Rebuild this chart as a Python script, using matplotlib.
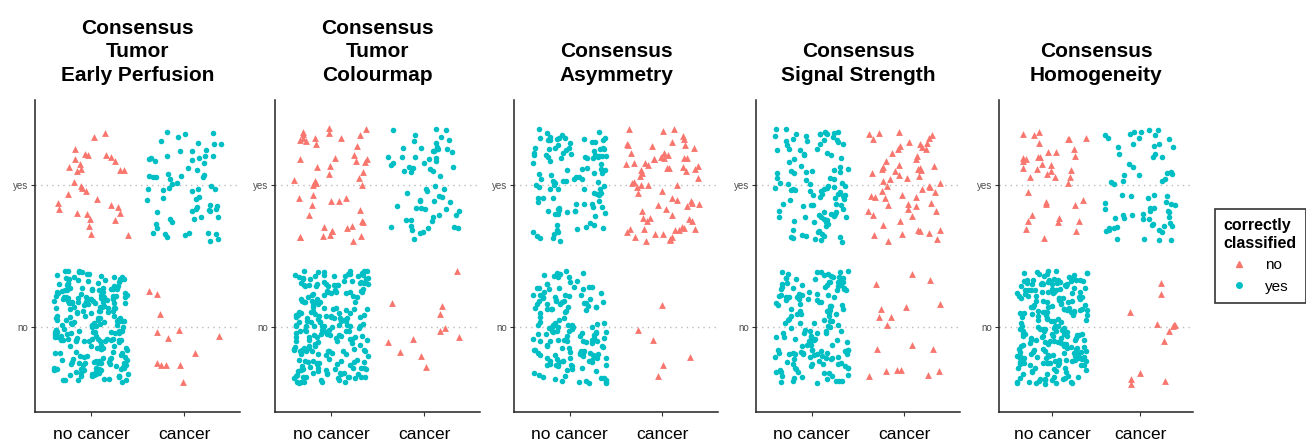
import numpy as np
import matplotlib
matplotlib.use("Agg")
import matplotlib.pyplot as plt
from matplotlib.lines import Line2D

plt.rcParams["font.family"] = ["Liberation Sans", "DejaVu Sans"]

W, H = 1306, 445

titles = [
    "Consensus\nTumor\nEarly Perfusion",
    "Consensus\nTumor\nColourmap",
    "Consensus\nAsymmetry",
    "Consensus\nSignal Strength",
    "Consensus\nHomogeneity",
]
x_labels = ["no cancer", "cancer"]
y_labels = ["no", "yes"]

# number of cases in each cell (true class x consensus answer)
n_nocancer_no = [240, 225, 160, 165, 235]
n_nocancer_yes = [33, 50, 112, 110, 40]
n_cancer_no = [13, 12, 6, 18, 13]
n_cancer_yes = [68, 66, 72, 62, 70]

# correctly classified? per cell
ok_nocancer_no = [True, True, True, True, True]
ok_nocancer_yes = [False, False, True, True, False]
ok_cancer_no = [False, False, False, False, False]
ok_cancer_yes = [True, True, False, False, True]

RED = "#F8766D"
TEAL = "#00BFC4"

# axes left/right in pixels
panel_px = [(35, 240), (275, 480), (514, 718), (756, 960), (999, 1193)]
top_px, bot_px = 100, 412

fig = plt.figure(figsize=(W / 100, H / 100), dpi=100)
rng = np.random.default_rng(7)  # jitter only, like geom_jitter

for i, (l, r) in enumerate(panel_px):
    ax = fig.add_axes([l / W, 1 - bot_px / H, (r - l) / W, (bot_px - top_px) / H])
    cells = [
        (1, 1, n_nocancer_no[i], ok_nocancer_no[i]),
        (1, 2, n_nocancer_yes[i], ok_nocancer_yes[i]),
        (2, 1, n_cancer_no[i], ok_cancer_no[i]),
        (2, 2, n_cancer_yes[i], ok_cancer_yes[i]),
    ]
    for cx, cy, n, ok in cells:
        xs = cx + rng.uniform(-0.4, 0.4, n)
        ys = cy + rng.uniform(-0.4, 0.4, n)
        if ok:
            ax.scatter(xs, ys, s=16, marker="o", color=TEAL, linewidths=0, zorder=3)
        else:
            ax.scatter(xs, ys, s=24, marker="^", color=RED, linewidths=0, zorder=3)

    ax.set_xlim(0.4, 2.6)
    ax.set_ylim(0.4, 2.6)
    ax.set_xticks([1, 2])
    ax.set_xticklabels(x_labels, fontsize=12.5)
    ax.set_yticks([1, 2])
    ax.set_yticklabels(y_labels, fontsize=7, color="#4D4D4D")
    ax.tick_params(axis="x", length=3, pad=8, color="#333333")
    ax.tick_params(axis="y", length=3, pad=2, color="#333333")
    ax.yaxis.grid(True, linestyle=(0, (1, 3)), color="#BBBBBB", linewidth=1)
    ax.set_axisbelow(True)
    for s in ["top", "right"]:
        ax.spines[s].set_visible(False)
    for s in ["left", "bottom"]:
        ax.spines[s].set_linewidth(1.1)
        ax.spines[s].set_color("#222222")
    ax.set_title(titles[i], fontsize=15, fontweight="bold", pad=14, linespacing=1.3)

handles = [
    Line2D([], [], marker="^", linestyle="", color=RED, markersize=5, label="no"),
    Line2D([], [], marker="o", linestyle="", color=TEAL, markersize=4, label="yes"),
]
leg = fig.legend(handles=handles, title="correctly\nclassified", loc="center left",
                 bbox_to_anchor=(1207 / W, 1 - 256 / H), frameon=True, fancybox=False,
                 edgecolor="black", fontsize=11, title_fontproperties={"weight": "bold", "size": 11.5},
                 handletextpad=0.7, borderpad=0.6, labelspacing=0.5)
leg.get_frame().set_linewidth(1.2)
leg._legend_box.align = "left"

fig.savefig("out.png", dpi=100)
